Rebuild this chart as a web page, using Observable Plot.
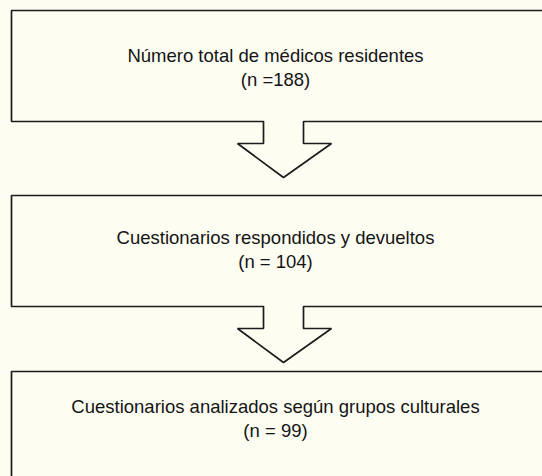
<!DOCTYPE html>
<html>
<head>
<meta charset="utf-8">
<script src="https://cdn.jsdelivr.net/npm/d3@7"></script>
<script src="https://cdn.jsdelivr.net/npm/@observablehq/plot@0.6"></script>
<style>
  html, body { margin: 0; padding: 0; background: #fdfdf2; }
  #chart { width: 542px; height: 476px; overflow: hidden; }
</style>
</head>
<body>
<div id="chart"></div>
<script>
// Data
const stepLabels = [
  "Número total de médicos residentes",
  "Cuestionarios respondidos y devueltos",
  "Cuestionarios analizados según grupos culturales"
];
const stepCounts = ["(n =188)", "(n = 104)", "(n = 99)"];

// Layout (pixel-space scales)
const W = 542, H = 476;
const boxLeft = 11, boxRight = 575;
const boxTops = [10, 195, 371];
const boxBottoms = [121, 306, 500];
const textX = 275;
const baseline2 = [85, 267, 436];
const shaftL = 263, shaftR = 303, headL = 237, headR = 331, tipX = 283;
const shaftLen = 22, headLen = 34;

const paths = [];
boxTops.forEach((top, i) => {
  const b = boxBottoms[i];
  const hasArrow = i < boxTops.length - 1;
  let pts;
  if (hasArrow) {
    pts = [
      [shaftL, b], [boxLeft, b], [boxLeft, top], [boxRight, top], [boxRight, b], [shaftR, b],
      [shaftR, b + shaftLen], [headR, b + shaftLen], [tipX, b + shaftLen + headLen],
      [headL, b + shaftLen], [shaftL, b + shaftLen], [shaftL, b]
    ];
  } else {
    pts = [[boxLeft, b], [boxLeft, top], [boxRight, top], [boxRight, b]];
  }
  pts.forEach(([x, y], k) => paths.push({step: i, k, x, y}));
});

const labels = stepLabels.map((s, i) => ({
  text: s + "\n" + stepCounts[i],
  x: textX,
  y: baseline2[i]
}));

const chart = Plot.plot({
  width: W,
  height: H,
  margin: 0,
  x: {domain: [0, W], range: [0, W], axis: null},
  y: {domain: [0, H], range: [0, H], axis: null},
  style: {background: "#fdfdf2", fontFamily: "'Liberation Sans', Arial, Helvetica, sans-serif"},
  marks: [
    Plot.line(paths, {x: "x", y: "y", z: "step", stroke: "#1c1c1c", strokeWidth: 1.7, strokeLinejoin: "miter", curve: "linear"}),
    Plot.text(labels, {x: "x", y: "y", text: "text", fontSize: 18.5, lineHeight: 24 / 18.5, lineAnchor: "bottom", fill: "#141414", textAnchor: "middle"})
  ]
});
document.getElementById("chart").appendChild(chart);
</script>
</body>
</html>
